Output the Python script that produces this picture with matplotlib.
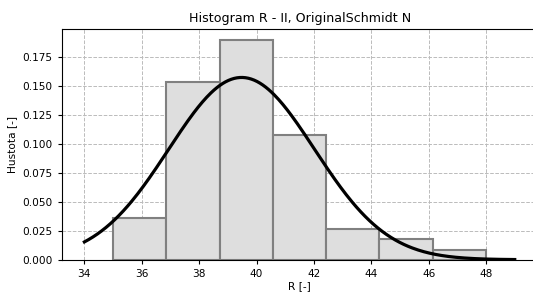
import numpy as np
import matplotlib
matplotlib.use("Agg")
import matplotlib.pyplot as plt

# histogram (density)
bin_edges = [35.0, 36.857, 38.714, 40.571, 42.429, 44.286, 46.143, 48.0]
density = [0.0359, 0.1529, 0.1891, 0.1078, 0.0267, 0.0175, 0.0083]

# fitted normal distribution
fit_mean = 39.48
fit_std = 2.54
curve_range = (34.0, 49.0)

BAR_FILL = "#dedede"
BAR_EDGE = "#808080"

fig = plt.figure(figsize=(5.33, 2.92), dpi=100)
ax = fig.add_axes([0.1158, 0.1106, 0.893, 0.789])

widths = np.diff(bin_edges)
ax.bar(bin_edges[:-1], density, width=widths, align="edge",
       color=BAR_FILL, edgecolor=BAR_EDGE, linewidth=1.5, zorder=2)

x = np.linspace(*curve_range, 300)
pdf = np.exp(-0.5 * ((x - fit_mean) / fit_std) ** 2) / (fit_std * np.sqrt(2 * np.pi))
ax.plot(x, pdf, color="black", lw=2.3, zorder=3)

ax.set_xlim(33.21, 49.8)
ax.set_axisbelow(True)
ax.grid(True, linestyle="--", color="#bbbbbb", linewidth=0.7)
ax.set_xticks(np.arange(34, 49, 2))
ax.tick_params(labelsize=7.6, length=3, width=0.8)
ax.set_xlabel("R [-]", fontsize=7.6, labelpad=2)
ax.set_ylabel("Hustota [-]", fontsize=7.6, labelpad=4)
ax.set_title("Histogram R - II, OriginalSchmidt N", fontsize=9.1, pad=5)

fig.savefig("out.png", dpi=100)
